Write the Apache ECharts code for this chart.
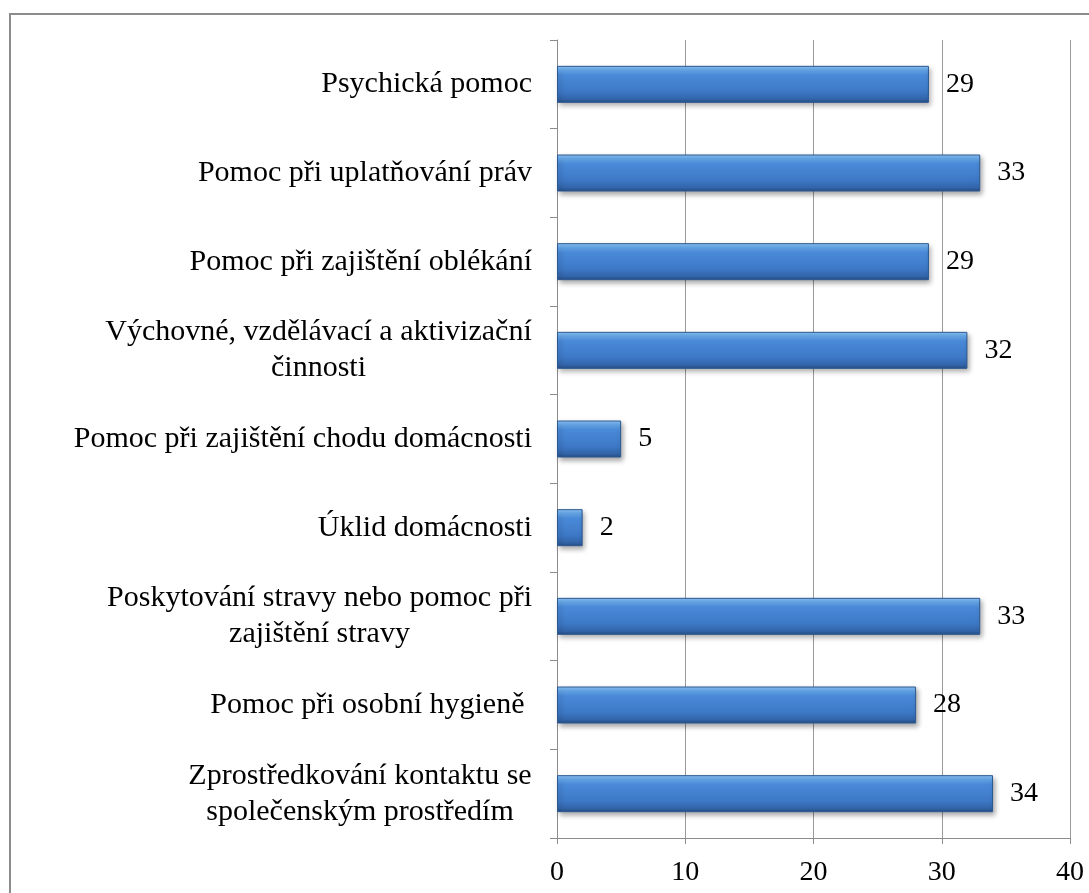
<!DOCTYPE html>
<html>
<head>
<meta charset="utf-8">
<script src="https://cdn.jsdelivr.net/npm/echarts@6/dist/echarts.min.js"></script>
<style>
html,body{margin:0;padding:0;background:#fff;}
#c{width:1089px;height:893px;}
</style>
</head>
<body>
<div id="c"></div>
<script>
// Categories listed top to bottom as in the picture
var categories = [
  "Psychická pomoc",
  "Pomoc při uplatňování práv",
  "Pomoc při zajištění oblékání",
  "Výchovné, vzdělávací a aktivizační\nčinnosti",
  "Pomoc při zajištění chodu domácnosti",
  "Úklid domácnosti",
  "Poskytování stravy nebo pomoc při\nzajištění stravy",
  "Pomoc při osobní hygieně ",
  "Zprostředkování kontaktu se\nspolečenským prostředím"
];
var values = [29, 33, 29, 32, 5, 2, 33, 28, 34];
var xTicks = [0, 10, 20, 30, 40];

var FONT = '"Liberation Serif", "DejaVu Serif", serif';
var LABEL_SIZE = 30;

// measure line widths to build centered multi-line label blocks
var cv = document.createElement('canvas').getContext('2d');
cv.font = LABEL_SIZE + 'px ' + FONT;
var rich = {};
var fmtMap = {};
categories.forEach(function (cat, i) {
  var lines = cat.split('\n');
  if (lines.length > 1) {
    var w = 0;
    lines.forEach(function (l) { w = Math.max(w, cv.measureText(l).width); });
    var key = 'r' + i;
    rich[key] = { width: Math.ceil(w), align: 'center', fontFamily: FONT, fontSize: LABEL_SIZE, lineHeight: 36, color: '#000' };
    fmtMap[cat] = lines.map(function (l) { return '{' + key + '|' + l + '}'; }).join('\n');
  } else {
    fmtMap[cat] = cat;
  }
});

var chart = echarts.init(document.getElementById('c'), null, { renderer: 'canvas' });
chart.setOption({
  animation: false,
  backgroundColor: '#fff',
  graphic: [{
    type: 'rect',
    shape: { x: 10, y: 14, width: 1100, height: 900 },
    style: { fill: 'none', stroke: '#8c8c8c', lineWidth: 2 },
    z: 100,
    silent: true
  }],
  grid: { left: 557, right: 19, top: 40, bottom: 55, containLabel: false },
  xAxis: {
    type: 'value',
    min: xTicks[0],
    max: xTicks[xTicks.length - 1],
    interval: 10,
    axisLine: { show: true, lineStyle: { color: '#8c8c8c', width: 1 } },
    axisTick: { show: true, length: 6, lineStyle: { color: '#8c8c8c' } },
    splitLine: { show: true, lineStyle: { color: '#9a9a9a', width: 1 } },
    axisLabel: { color: '#000', fontFamily: FONT, fontSize: 28, margin: 21 }
  },
  yAxis: {
    type: 'category',
    data: categories,
    inverse: true,
    axisLine: { show: true, lineStyle: { color: '#8c8c8c', width: 1 } },
    axisTick: { show: true, length: 7, lineStyle: { color: '#8c8c8c' } },
    splitLine: { show: false },
    axisLabel: {
      color: '#000',
      fontFamily: FONT,
      fontSize: LABEL_SIZE,
      lineHeight: 36,
      margin: 25,
      formatter: function (v) { return fmtMap[v]; },
      rich: rich
    }
  },
  series: [{
    type: 'bar',
    data: values,
    barWidth: 37,
    itemStyle: {
      color: new echarts.graphic.LinearGradient(0, 0, 0, 1, [
        { offset: 0, color: '#8fc6f7' },
        { offset: 0.1, color: '#6badef' },
        { offset: 0.25, color: '#4a8ad8' },
        { offset: 0.7, color: '#3d78c6' },
        { offset: 0.9, color: '#3264a8' },
        { offset: 1, color: '#264c84' }
      ]),
      borderColor: '#2c5890',
      borderWidth: 1,
      shadowColor: 'rgba(0,0,0,0.35)',
      shadowBlur: 5,
      shadowOffsetX: 2,
      shadowOffsetY: 3
    },
    label: {
      show: true,
      position: 'right',
      distance: 17,
      color: '#000',
      fontFamily: FONT,
      fontSize: 28
    }
  }]
});
</script>
</body>
</html>
